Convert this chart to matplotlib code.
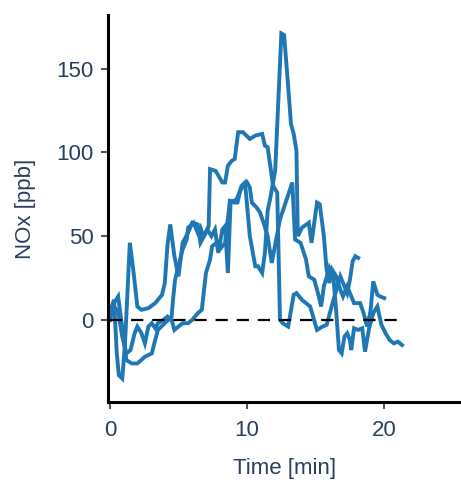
import matplotlib.pyplot as plt
import numpy as np

# three runs of NOx vs time
time_a = [0.0, 0.3, 0.5, 0.65, 0.9, 1.1, 1.3, 1.45, 1.7, 2.0, 2.3, 2.8, 3.3, 3.8, 4.0, 4.2, 4.4,
          4.7, 5.0, 5.3, 5.7, 6.0, 6.4, 6.6, 7.0, 7.2, 7.3, 7.7, 8.2, 8.4, 8.6, 8.9, 9.1, 9.35,
          9.7, 10.2, 10.6, 11.1, 11.3, 11.5, 11.9, 12.2, 12.4, 12.6, 13.0, 13.4, 13.6, 14.0, 14.6,
          15.1, 15.5, 15.8, 16.3, 16.8, 17.3, 17.5, 17.7, 17.9, 18.1]
nox_a = [5, 12, -20, -33, -35, -14, 20, 46, 30, 8, 6, 7, 10, 15, 22, 45, 57,
         38, 26, 46, 52, 58, 57, 46, 52, 56, 90, 89, 82, 82, 92, 95, 96, 112,
         112, 108, 110, 111, 104, 103, 80, 76, 0, -2, -4, 15, 16, 12, 8,
         -6, -4, -3, 12, 26, 16, 24, 35, 38, 37]

time_b = [0.0, 0.3, 0.6, 0.9, 1.2, 1.6, 2.0, 2.55, 3.05, 3.3, 3.5, 4.0, 4.5, 4.6, 4.75, 5.3,
          5.6, 5.7, 6.1, 6.4, 6.6, 6.8, 7.1, 7.4, 7.66, 7.9, 8.2, 8.4, 8.6, 8.8, 9.1, 9.3,
          9.6, 9.85, 10.2, 10.6, 10.8, 11.1, 11.3, 11.5, 11.7, 12.05, 12.5, 12.7, 13.0, 13.2,
          13.4, 13.6, 13.7, 14.0, 14.5, 14.7, 15.1, 15.3, 15.6, 15.8, 16.0, 16.2, 16.5, 16.8,
          17.0, 17.3, 17.5, 17.8, 18.0, 18.25, 18.5, 18.75, 19.0, 19.2, 19.5, 19.7, 20.0]
nox_b = [0, 10, 14, -5, -24, -26, -26, -22, -20, -12, -6, -2, 2, 12, 24, 42,
         48, 55, 58, 52, 55, 50, 54, 50, 54, 40, 54, 56, 28, 71, 71, 73,
         80, 82, 50, 32, 32, 28, 40, 65, 73, 89, 171, 170, 139, 117,
         111, 101, 50, 55, 58, 46, 70, 69, 50, 30, 22, 30, 26, 18,
         14, 20, 16, 10, 10, 10, 4, -4, 5, 23, 15, 14, 13]

time_c = [0.0, 0.3, 0.6, 0.9, 1.2, 1.5, 1.8, 2.0, 2.3, 2.55, 2.8, 3.05, 3.3, 3.5, 3.9, 4.2,
          4.5, 4.7, 5.0, 5.3, 5.7, 6.0, 6.4, 6.7, 7.0, 7.3, 7.45, 7.8, 8.0, 8.4, 8.75, 9.1,
          9.3, 9.5, 9.7, 10.0, 10.2, 10.35, 10.7, 10.95, 11.2, 11.5, 11.8, 12.4, 13.3, 13.5,
          13.9, 14.3, 14.5, 14.9, 15.2, 15.4, 15.6, 16.0, 16.3, 16.5, 16.7, 16.9, 17.1, 17.3,
          17.5, 17.6, 17.8, 18.1, 18.4, 18.6, 18.9, 19.2, 19.5, 19.8, 20.1, 20.4, 20.7, 21.0,
          21.3]
nox_c = [0, 8, 5, -10, -20, -18, -8, -4, -8, -14, -4, -2, -5, -2, 0, 2,
         0, -6, -4, -2, -2, 0, 4, 6, 28, 36, 44, 46, 42, 46, 71, 70,
         70, 77, 80, 82, 79, 70, 67, 64, 58, 50, 34, 60, 82, 48,
         46, 36, 26, 24, 15, 8, 20, 31, 25, 5, -18, -20, -10, -8,
         -12, -18, -5, -6, -5, -19, -5, 4, 8, -3, -8, -12, -14, -13,
         -15]

runs = [(time_a, nox_a), (time_b, nox_b), (time_c, nox_c)]

plt.rcParams['font.family'] = ['Liberation Sans', 'DejaVu Sans']
text_col = '#2a3f5f'

fig = plt.figure(figsize=(4.61, 4.82), dpi=100)
ax = fig.add_axes([0.234, 0.166, 0.766, 0.803])

for t, v in runs:
    ax.plot(t, v, color='#1f77b4', lw=2.8, solid_joinstyle='miter')

ax.hlines(0, 0, max(time_c), colors='k', lw=1.6, linestyles=(0, (5.5, 4.0)), zorder=3)

ax.set_xlim(-0.15, 25.6)
ax.set_ylim(-49, 182)
ax.set_xticks([0, 10, 20])
ax.set_yticks([0, 50, 100, 150])

for side in ['top', 'right']:
    ax.spines[side].set_visible(False)
for side in ['left', 'bottom']:
    ax.spines[side].set_linewidth(2.2)
    ax.spines[side].set_color('black')

ax.tick_params(length=5, width=1.5, color='#555555', labelsize=16,
               labelcolor=text_col, pad=5)
ax.tick_params(axis='x', pad=8)
ax.set_xlabel('Time [min]', fontsize=16, color=text_col, labelpad=12)
ax.set_ylabel('NOx [ppb]', fontsize=16, color=text_col, labelpad=15)

fig.savefig('out.png', dpi=100)
